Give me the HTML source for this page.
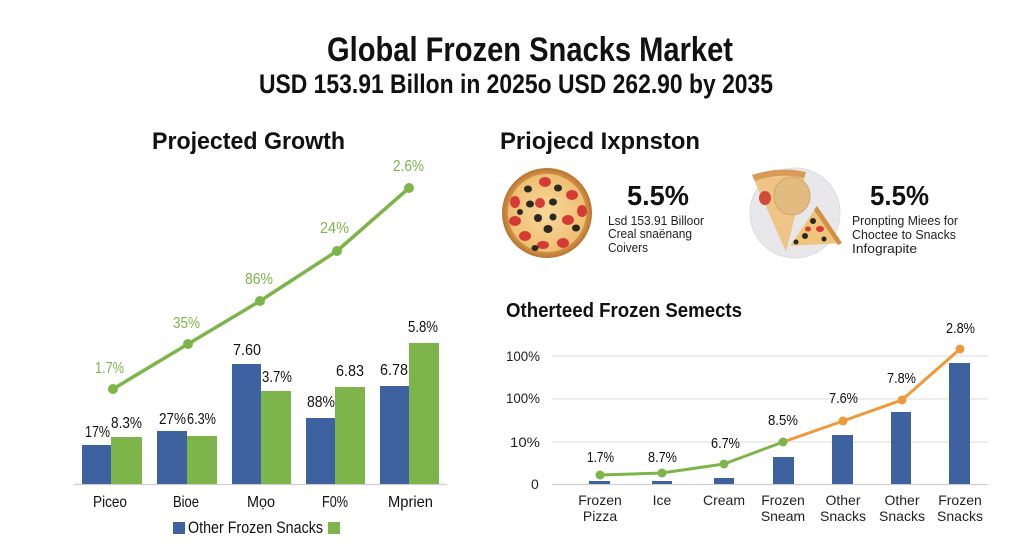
<!DOCTYPE html>
<html><head><meta charset="utf-8"><style>
html,body{margin:0;padding:0;background:#fff;}
svg{display:block;}
text{font-family:"Liberation Sans",sans-serif;}
</style></head><body>
<svg width="1024" height="559" viewBox="0 0 1024 559" xmlns="http://www.w3.org/2000/svg">
<rect width="1024" height="559" fill="#fff"/>
<!-- Titles -->
<text x="327" y="61" font-size="34" font-weight="bold" fill="#111" textLength="406" lengthAdjust="spacingAndGlyphs">Global Frozen Snacks Market</text>
<text x="259" y="93" font-size="27" font-weight="bold" fill="#111" textLength="514" lengthAdjust="spacingAndGlyphs">USD 153.91 Billon in 2025o USD 262.90 by 2035</text>

<!-- Left panel -->
<text x="152" y="149" font-size="24" font-weight="bold" fill="#111" textLength="193" lengthAdjust="spacingAndGlyphs">Projected Growth</text>
<line x1="74" y1="484.5" x2="447" y2="484.5" stroke="#cfcfcf" stroke-width="1.2"/>
<g fill="#3e62a0">
<rect x="82" y="445" width="29" height="39"/>
<rect x="157" y="431" width="30" height="53"/>
<rect x="232" y="364" width="29" height="120"/>
<rect x="306" y="418" width="29" height="66"/>
<rect x="380" y="386" width="29" height="98"/>
</g>
<g fill="#7db54a">
<rect x="111" y="437" width="31" height="47"/>
<rect x="187" y="436" width="30" height="48"/>
<rect x="261" y="391" width="30" height="93"/>
<rect x="335" y="387" width="30" height="97"/>
<rect x="409" y="343" width="30" height="141"/>
</g>
<polyline points="113,389 188,344 260,301 337,251 409,188" fill="none" stroke="#7db54a" stroke-width="3.5" stroke-linejoin="round"/>
<g fill="#7db54a">
<circle cx="113" cy="389" r="5"/><circle cx="188" cy="344" r="5"/><circle cx="260" cy="301" r="5"/><circle cx="337" cy="251" r="5"/><circle cx="409" cy="188" r="5"/>
</g>
<g font-size="16" fill="#7db54a">
<text x="95" y="373" textLength="29" lengthAdjust="spacingAndGlyphs">1.7%</text>
<text x="173" y="328" textLength="27" lengthAdjust="spacingAndGlyphs">35%</text>
<text x="245" y="284" textLength="28" lengthAdjust="spacingAndGlyphs">86%</text>
<text x="320" y="233" textLength="29" lengthAdjust="spacingAndGlyphs">24%</text>
<text x="393" y="171" textLength="31" lengthAdjust="spacingAndGlyphs">2.6%</text>
</g>
<g font-size="16" fill="#111">
<text x="85" y="437" textLength="25" lengthAdjust="spacingAndGlyphs">17%</text>
<text x="111" y="428" textLength="31" lengthAdjust="spacingAndGlyphs">8.3%</text>
<text x="159" y="424" textLength="27" lengthAdjust="spacingAndGlyphs">27%</text>
<text x="187" y="424" textLength="29" lengthAdjust="spacingAndGlyphs">6.3%</text>
<text x="233" y="355" textLength="28" lengthAdjust="spacingAndGlyphs">7.60</text>
<text x="262" y="382" textLength="30" lengthAdjust="spacingAndGlyphs">3.7%</text>
<text x="307" y="407" textLength="28" lengthAdjust="spacingAndGlyphs">88%</text>
<text x="336" y="376" textLength="28" lengthAdjust="spacingAndGlyphs">6.83</text>
<text x="380" y="375" textLength="28" lengthAdjust="spacingAndGlyphs">6.78</text>
<text x="408" y="332" textLength="30" lengthAdjust="spacingAndGlyphs">5.8%</text>
</g>
<g font-size="16" fill="#111">
<text x="93" y="507" textLength="34" lengthAdjust="spacingAndGlyphs">Piceo</text>
<text x="173" y="507" textLength="26" lengthAdjust="spacingAndGlyphs">Bioe</text>
<text x="247" y="507" textLength="28" lengthAdjust="spacingAndGlyphs">Mọo</text>
<text x="322" y="507" textLength="26" lengthAdjust="spacingAndGlyphs">F0%</text>
<text x="388" y="507" textLength="45" lengthAdjust="spacingAndGlyphs">Mprien</text>
</g>
<rect x="173" y="522" width="12" height="12" fill="#3e62a0"/>
<text x="188" y="533" font-size="17" fill="#111" textLength="135" lengthAdjust="spacingAndGlyphs">Other Frozen Snacks</text>
<rect x="328" y="522" width="12" height="12" fill="#7db54a"/>

<!-- Right top -->
<text x="500" y="149" font-size="24" font-weight="bold" fill="#111" textLength="200" lengthAdjust="spacingAndGlyphs">Priojecd Ixpnston</text>
<!-- pizza -->
<defs>
<radialGradient id="crust" cx="50%" cy="50%" r="50%">
<stop offset="80%" stop-color="#e0a055"/><stop offset="100%" stop-color="#b8742f"/>
</radialGradient>
<radialGradient id="cheese" cx="50%" cy="50%" r="50%">
<stop offset="0%" stop-color="#f7d89a"/><stop offset="100%" stop-color="#efbf72"/>
</radialGradient>
</defs>
<circle cx="547" cy="213" r="45" fill="url(#crust)"/>
<circle cx="547" cy="213" r="39" fill="url(#cheese)"/>
<g fill="#d63a35">
<ellipse cx="545" cy="182" rx="6" ry="5"/><ellipse cx="572" cy="195" rx="6" ry="5"/><ellipse cx="515" cy="202" rx="5" ry="6"/>
<ellipse cx="540" cy="203" rx="5" ry="5"/><ellipse cx="582" cy="211" rx="5" ry="6"/><ellipse cx="515" cy="221" rx="6" ry="5"/>
<ellipse cx="568" cy="220" rx="6" ry="5"/><ellipse cx="525" cy="236" rx="6" ry="5"/><ellipse cx="543" cy="245" rx="6" ry="4"/>
<ellipse cx="563" cy="243" rx="6" ry="5"/>
</g>
<g fill="#2a2820">
<ellipse cx="528" cy="189" rx="4" ry="3.5"/><ellipse cx="558" cy="188" rx="4" ry="3.5"/><ellipse cx="530" cy="204" rx="4" ry="3.5"/>
<ellipse cx="553" cy="202" rx="4" ry="3.5"/><ellipse cx="538" cy="218" rx="4" ry="4"/><ellipse cx="553" cy="217" rx="3.5" ry="3.5"/>
<ellipse cx="548" cy="229" rx="4.5" ry="4"/><ellipse cx="576" cy="228" rx="4" ry="3.5"/><ellipse cx="535" cy="248" rx="3.5" ry="3"/>
<ellipse cx="520" cy="212" rx="3" ry="3"/>
</g>
<text x="627" y="205" font-size="28" font-weight="bold" fill="#111" textLength="62" lengthAdjust="spacingAndGlyphs">5.5%</text>
<g font-size="13" fill="#222">
<text x="608" y="225" textLength="96" lengthAdjust="spacingAndGlyphs">Lsd 153.91 Billoor</text>
<text x="608" y="238" textLength="84" lengthAdjust="spacingAndGlyphs">Creal snaënang</text>
<text x="608" y="252" textLength="40" lengthAdjust="spacingAndGlyphs">Coivers</text>
</g>
<!-- plate -->
<circle cx="795" cy="213" r="45" fill="#e8e8eb" stroke="#dcdcdf" stroke-width="1"/>
<polygon points="752,175 806,172 786,252" fill="#eec487"/>
<path d="M752,175 Q779,166 806,172 L804,178 Q779,172 755,181 Z" fill="#d89a55"/>
<ellipse cx="765" cy="198" rx="6" ry="7" fill="#cf4a3a"/>
<ellipse cx="792" cy="196" rx="18" ry="19" fill="#e2bb80" stroke="#d2a468" stroke-width="1"/>
<polygon points="817,206 842,243 790,246" fill="#f0c47c"/>
<path d="M817,206 L842,243 L838,245 L814,210 Z" fill="#d18f4a"/>
<g fill="#2a2820"><circle cx="813" cy="221" r="3"/><circle cx="805" cy="236" r="3"/><circle cx="824" cy="239" r="2.5"/><circle cx="796" cy="242" r="2.5"/></g>
<g fill="#d23a33"><ellipse cx="820" cy="229" rx="4" ry="3"/><ellipse cx="808" cy="229" rx="3" ry="2.5"/></g>
<text x="870" y="205" font-size="28" font-weight="bold" fill="#111" textLength="59" lengthAdjust="spacingAndGlyphs">5.5%</text>
<g font-size="13" fill="#222">
<text x="852" y="225" textLength="106" lengthAdjust="spacingAndGlyphs">Pronpting Miees for</text>
<text x="852" y="239" textLength="104" lengthAdjust="spacingAndGlyphs">Choctee to Snacks</text>
<text x="852" y="253" textLength="65" lengthAdjust="spacingAndGlyphs">Infograpite</text>
</g>

<!-- Bottom right -->
<text x="506" y="317" font-size="20" font-weight="bold" fill="#111" textLength="236" lengthAdjust="spacingAndGlyphs">Otherteed Frozen Semects</text>
<g stroke="#dedede" stroke-width="1">
<line x1="552" y1="356" x2="988" y2="356"/><line x1="552" y1="399" x2="988" y2="399"/><line x1="552" y1="442" x2="988" y2="442"/>
</g>
<line x1="552" y1="484.5" x2="988" y2="484.5" stroke="#cfcfcf" stroke-width="1.2"/>
<g font-size="14" fill="#222">
<text x="506" y="361" textLength="34" lengthAdjust="spacingAndGlyphs">100%</text>
<text x="506" y="403" textLength="34" lengthAdjust="spacingAndGlyphs">100%</text>
<text x="510" y="447" textLength="30" lengthAdjust="spacingAndGlyphs">10%</text>
<text x="531" y="489">0</text>
</g>
<g fill="#3e62a0">
<rect x="589" y="481" width="21" height="3"/>
<rect x="652" y="481" width="20" height="3"/>
<rect x="714" y="478" width="20" height="6"/>
<rect x="773" y="457" width="21" height="27"/>
<rect x="832" y="435" width="21" height="49"/>
<rect x="891" y="412" width="20" height="72"/>
<rect x="949" y="363" width="21" height="121"/>
</g>
<polyline points="600,475 662,473 724,464 783,442" fill="none" stroke="#7db54a" stroke-width="3" stroke-linejoin="round"/>
<polyline points="783,442 843,421 902,400 960,349" fill="none" stroke="#ee9a3a" stroke-width="3" stroke-linejoin="round"/>
<g fill="#7db54a"><circle cx="600" cy="475" r="4.5"/><circle cx="662" cy="473" r="4.5"/><circle cx="724" cy="464" r="4.5"/><circle cx="783" cy="442" r="4.5"/></g>
<g fill="#ee9a3a"><circle cx="843" cy="421" r="4.5"/><circle cx="902" cy="400" r="4.5"/><circle cx="960" cy="349" r="4.5"/></g>
<g font-size="15" fill="#111">
<text x="587" y="462" textLength="27" lengthAdjust="spacingAndGlyphs">1.7%</text>
<text x="648" y="462" textLength="29" lengthAdjust="spacingAndGlyphs">8.7%</text>
<text x="711" y="448" textLength="29" lengthAdjust="spacingAndGlyphs">6.7%</text>
<text x="768" y="425" textLength="30" lengthAdjust="spacingAndGlyphs">8.5%</text>
<text x="829" y="403" textLength="29" lengthAdjust="spacingAndGlyphs">7.6%</text>
<text x="887" y="383" textLength="29" lengthAdjust="spacingAndGlyphs">7.8%</text>
<text x="946" y="333" textLength="29" lengthAdjust="spacingAndGlyphs">2.8%</text>
</g>
<g font-size="14" fill="#222" text-anchor="middle">
<text x="600" y="505">Frozen</text><text x="600" y="521">Pizza</text>
<text x="662" y="505">Ice</text>
<text x="724" y="505">Cream</text>
<text x="783" y="505">Frozen</text><text x="783" y="521">Sneam</text>
<text x="843" y="505">Other</text><text x="843" y="521">Snacks</text>
<text x="902" y="505">Other</text><text x="902" y="521">Snacks</text>
<text x="960" y="505">Frozen</text><text x="960" y="521">Snacks</text>
</g>
</svg>
</body></html>
